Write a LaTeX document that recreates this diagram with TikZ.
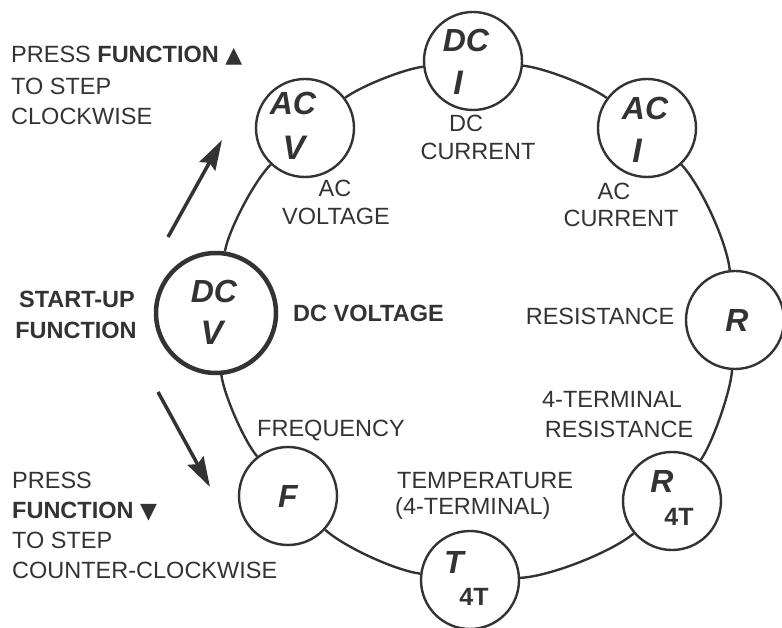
\documentclass[tikz,border=0pt]{standalone}
\usepackage{fontspec}
\setmainfont{Liberation Sans}
\newfontfamily\symf{DejaVu Sans}
\usetikzlibrary{arrows.meta}
\definecolor{ink}{HTML}{333333}
\begin{document}
\begin{tikzpicture}[x=1pt,y=1pt,
  ring/.style={circle,draw=ink,line width=2.4pt,minimum size=98pt,inner sep=0pt,fill=white},
  startring/.style={ring,minimum size=120pt,line width=4.5pt},
  arcline/.style={draw=ink,line width=2.4pt},
  lab/.style={text=ink,font=\fontsize{23.5}{28}\selectfont,inner sep=0pt,anchor=base},
  labl/.style={lab,anchor=base west},
  blab/.style={lab,font=\fontsize{23.5}{28}\selectfont\bfseries},
  sym/.style={text=ink,font=\fontsize{32}{36}\selectfont\bfseries\itshape,inner sep=0pt,anchor=base},
  symb/.style={sym,font=\fontsize{34}{38}\selectfont\bfseries\itshape},
  sub/.style={text=ink,font=\fontsize{25}{28}\selectfont\bfseries,inner sep=0pt,anchor=base},
  press/.style={draw=ink,line width=3.5pt,-{Stealth[length=30pt,width=18pt,inset=4pt]}}
]
\useasboundingbox (0,0) rectangle (782,627);

% mode circles
\node[ring] (dci) at (473,566) {};
\node[ring] (aci) at (647,499) {};
\node[ring] (rr) at (735,307) {};
\node[ring] (r4t) at (672,126) {};
\node[ring] (t4t) at (470,47) {};
\node[ring] (ff) at (288,131) {};
\node[startring] (dcv) at (216,314) {};
\node[ring] (acv) at (305,499) {};

% ring segments
\draw[arcline] (dci) to[bend left=15.7, distance=20.4pt] (aci);
\draw[arcline] (aci) to[bend left=18.6, distance=28.4pt] (rr);
\draw[arcline] (rr) to[bend left=15.8, distance=20.6pt] (r4t);
\draw[arcline] (r4t) to[bend left=18.9, distance=29.1pt] (t4t);
\draw[arcline] (t4t) to[bend left=17.5, distance=25.2pt] (ff);
\draw[arcline] (ff) to[bend left=16.5, distance=20pt] (dcv);
\draw[arcline] (dcv) to[bend left=17.5, distance=22.6pt] (acv);
\draw[arcline] (acv) to[bend left=15.2, distance=19pt] (dci);

% symbols inside circles
\node[sym] (dciA) at (466,575) {DC};
\node[symb] (dciB) at (458,532) {I};
\node[sym] (aciA) at (645,507) {AC};
\node[symb] (aciB) at (637,464) {I};
\node[sym] (acvA) at (293,512) {AC};
\node[symb] (acvB) at (294,467) {V};
\node[sym] (dcvA) at (214,324) {DC};
\node[symb] (dcvB) at (212,282) {V};
\node[sym] (rrA) at (737,295) {R};
\node[sym] (ffA) at (288,119) {F};
\node[sym] (r4tA) at (662,134) {R};
\node[sub] (r4tB) at (679,102) {4T};
\node[sym] (t4tA) at (454,54) {T};
\node[sub] (t4tB) at (474,22) {4T};

% labels
\node[lab] (l1a) at (466,495) {DC};
\node[lab] (l1b) at (478,467) {CURRENT};
\node[lab] (l2a) at (614,427) {AC};
\node[lab] (l2b) at (621,400) {CURRENT};
\node[lab] (l3) at (600,302) {RESISTANCE};
\node[lab] (l4a) at (612,219) {4-TERMINAL};
\node[lab] (l4b) at (619,189) {RESISTANCE};
\node[labl] (l5a) at (397,139) {TEMPERATURE};
\node[labl] (l5b) at (395,113) {(4-TERMINAL)};
\node[lab] (l6) at (331,190) {FREQUENCY};
\node[blab,anchor=base west] (l7) at (293,305) {DC VOLTAGE};
\node[lab] (l8a) at (335,430) {AC};
\node[lab] (l8b) at (336,402) {VOLTAGE};

% start-up
\node[blab] (su1) at (77,319) {START-UP};
\node[blab] (su2) at (76,288) {FUNCTION};

% press instructions
\node[labl] (cw1) at (11,564) {PRESS \textbf{FUNCTION} {\symf\fontsize{22}{24}\selectfont ▲}};
\node[labl] (cw2) at (11,532) {TO STEP};
\node[labl] (cw3) at (11,502) {CLOCKWISE};
\node[labl] (cc1) at (12,139) {PRESS};
\node[labl] (cc2) at (12,109) {\textbf{FUNCTION} {\symf\fontsize{22}{24}\selectfont ▼}};
\node[labl] (cc3) at (12,79) {TO STEP};
\node[labl] (cc4) at (12,49) {COUNTER-CLOCKWISE};

% arrows
\coordinate (cwS) at (168,390);
\coordinate (cwE) at (222,487);
\coordinate (ccS) at (158,235);
\coordinate (ccE) at (210,140);
\draw[press] (cwS) -- (cwE);
\draw[press] (ccS) -- (ccE);
\end{tikzpicture}
\end{document}
